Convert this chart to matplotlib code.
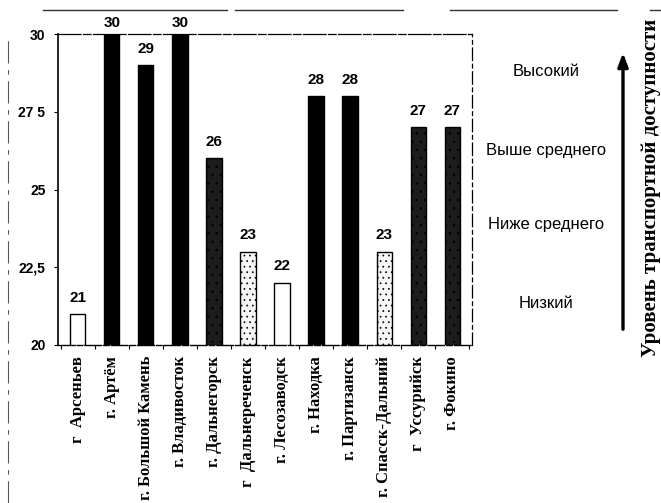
import matplotlib
matplotlib.use("Agg")
import matplotlib.pyplot as plt
from matplotlib.lines import Line2D

cities = ["г  Арсеньев", "г. Артём", "г. Большой Камень", "г. Владивосток",
          "г. Дальнегорск", "г  Дальнереченск", "г. Лесозаводск", "г. Находка",
          "г. Партизанск", "г. Спасск-Дальний", "г  Уссурийск", "г. Фокино"]
values = [21, 30, 29, 30, 26, 23, 22, 28, 28, 23, 27, 27]
yticks = [20, 22.5, 25, 27.5, 30]
ytick_labels = ["20", "22,5", "25", "27 5", "30"]
levels = ["Высокий", "Выше среднего", "Ниже среднего", "Низкий"]
axis_title = "Уровень транспортной доступности"

# fill style per bar (style only)
fills = ["white", "black", "black", "black", "#1c1c1c", "#f6f6f6",
         "white", "black", "black", "#f6f6f6", "#1c1c1c", "#1c1c1c"]

plt.rcParams['hatch.color'] = '#9a9a9a'
plt.rcParams['hatch.linewidth'] = 0.5

fig = plt.figure(figsize=(6.61, 5.03), dpi=100)
ax = fig.add_axes([58/661, 1-345/503, (472-58)/661, (345-34)/503])

x = list(range(len(cities)))
bars = ax.bar(x, [v - 20 for v in values], bottom=20, width=0.45,
              color=fills, edgecolor="black", linewidth=1.0, zorder=3)
for i, b in enumerate(bars):
    if fills[i] == "#f6f6f6":
        b.set_hatch("...")
    if fills[i] == "#1c1c1c":
        b.set_hatch("..")

for xi, v in zip(x, values):
    off = 0.12 if v >= 30 else 0.3
    ax.text(xi, v + off, str(v), ha="center", va="bottom",
            fontsize=11, fontweight="bold", family="Liberation Sans")

ax.set_xlim(-0.58, 11.58)
ax.set_ylim(20, 30)
ax.set_yticks(yticks)
ax.set_yticklabels(ytick_labels, fontsize=10, fontweight="bold", family="Liberation Sans")
ax.tick_params(axis="y", direction="out", length=3, width=0.8, pad=6)
ax.set_xticks(x)
ax.set_xticklabels(cities, rotation=90, fontsize=12, fontweight="bold",
                   family="Liberation Serif", va="top")
ax.tick_params(axis="x", length=0, pad=8)
ax.set_xticks([i + 0.5 for i in range(-1, 12)], minor=True)
ax.tick_params(axis="x", which="minor", direction="out", length=3, width=0.8)

ax.spines["left"].set_linewidth(1.2)
ax.spines["bottom"].set_linewidth(1.0)
ax.spines["bottom"].set_linestyle((0, (12, 1.5, 4, 1.5)))
ax.spines["top"].set_linewidth(0.9)
ax.spines["top"].set_linestyle((0, (18, 2, 6, 2)))
ax.spines["right"].set_linewidth(0.9)
ax.spines["right"].set_linestyle((0, (10, 3, 3, 3)))

# level labels on right
level_y = [72, 150, 225, 303]
for lab, yy in zip(levels, level_y):
    fig.text(546/661, 1 - yy/503, lab, ha="center", va="center",
             fontsize=12, family="Liberation Sans")

# arrow
fig.add_artist(matplotlib.patches.FancyArrowPatch(
    (623/661, 1 - 332/503), (623/661, 1 - 50/503), transform=fig.transFigure,
    arrowstyle="-|>,head_length=8,head_width=3", lw=2.4, color="black"))
fig.text(651/661, 1 - 188/503, axis_title, rotation=90, ha="center", va="center",
         fontsize=15, fontweight="bold", family="Liberation Serif")

# outer frame lines
fig.add_artist(Line2D([8/661, 8/661], [0, 1 - 35/503], transform=fig.transFigure,
                      color="#555555", lw=0.8, linestyle=(0, (20, 6, 4, 6))))
for x0, x1 in [(43, 227), (235, 403), (450, 617), (650, 661)]:
    fig.add_artist(Line2D([x0/661, x1/661], [1 - 10/503, 1 - 10/503],
                          transform=fig.transFigure, color="#333333", lw=1.0))

fig.savefig("out.png", dpi=100)
